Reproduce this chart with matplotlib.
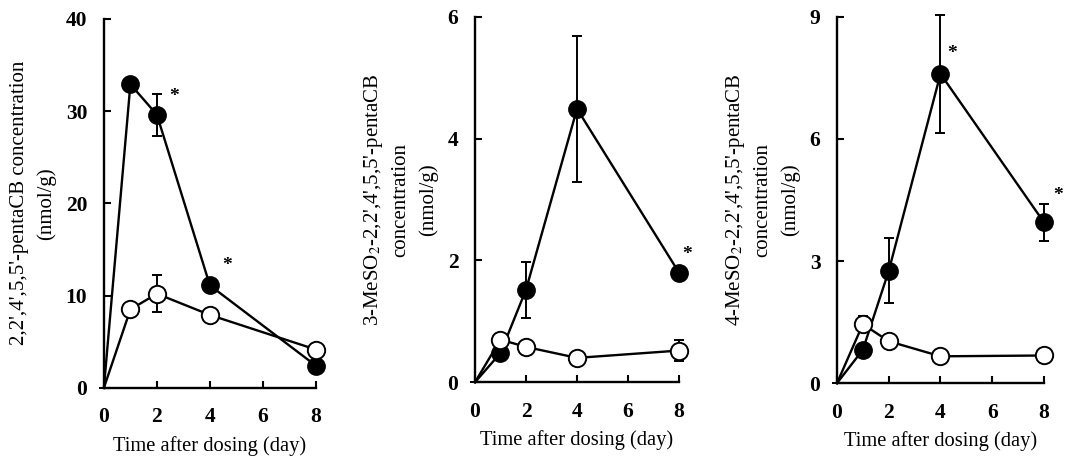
import matplotlib
matplotlib.use('Agg')
import matplotlib.pyplot as plt

plt.rcParams['font.family'] = ['Liberation Serif', 'DejaVu Serif']
plt.rcParams['mathtext.fontset'] = 'stix'

days = [0, 1, 2, 4, 8]

# panel 1: parent compound
pcb_filled = [0, 32.9, 29.6, 11.1, 2.4]
pcb_filled_err = [0, 0, 2.3, 0, 0]
pcb_open = [0, 8.5, 10.2, 7.9, 4.15]
pcb_open_err = [0, 0, 2.0, 0, 0]

# panel 2: 3-MeSO2 metabolite
m3_filled = [0, 0.48, 1.52, 4.49, 1.80]
m3_filled_err = [0, 0, 0.46, 1.2, 0]
m3_open = [0, 0.70, 0.58, 0.40, 0.52]
m3_open_err = [0, 0, 0.1, 0, 0.17]

# panel 3: 4-MeSO2 metabolite
m4_filled = [0, 0.82, 2.76, 7.6, 3.95]
m4_filled_err = [0, 0, 0.8, 1.45, 0.45]
m4_open = [0, 1.45, 1.03, 0.66, 0.68]
m4_open_err = [0, 0.2, 0, 0, 0]

ylabels = ["2,2',4',5,5'-pentaCB concentration\n(nmol/g)",
           "3-MeSO$_2$-2,2',4',5,5'-pentaCB\nconcentration\n(nmol/g)",
           "4-MeSO$_2$-2,2',4',5,5'-pentaCB\nconcentration\n(nmol/g)"]
ymax = [40, 6, 9]
yticks = [[0, 10, 20, 30, 40], [0, 2, 4, 6], [0, 3, 6, 9]]
stars = [[(2.65, 31.6), (4.65, 13.3)], [(8.3, 2.1)], [(4.45, 8.1), (8.55, 4.6)]]

panels = [(pcb_filled, pcb_filled_err, pcb_open, pcb_open_err),
          (m3_filled, m3_filled_err, m3_open, m3_open_err),
          (m4_filled, m4_filled_err, m4_open, m4_open_err)]

boxes = [[0.097, 0.173, 0.198, 0.787],
         [0.4435, 0.185, 0.1905, 0.779],
         [0.7815, 0.183, 0.1933, 0.781]]

fig = plt.figure(figsize=(10.71, 4.69), dpi=100)
for i, (f, fe, o, oe) in enumerate(panels):
    ax = fig.add_axes(boxes[i])
    ax.errorbar(days, f, yerr=fe, color='black', lw=1.7, marker='o', ms=12.5,
                mfc='black', mec='black', markevery=slice(1, None),
                capsize=3.5, elinewidth=1.4, capthick=1.4, zorder=3)
    ax.errorbar(days, o, yerr=oe, color='black', lw=1.7, marker='o', ms=12.5,
                mfc='white', mec='black', mew=1.4, markevery=slice(1, None),
                capsize=3.5, elinewidth=1.4, capthick=1.4, zorder=4)
    for sx, sy in stars[i]:
        ax.text(sx, sy, '*', fontsize=14, fontweight='bold', ha='center', va='center')
    ax.set_xlim(0, 8)
    ax.set_ylim(0, ymax[i])
    ax.set_xticks([0, 2, 4, 6, 8])
    ax.set_yticks(yticks[i])
    for s in ['top', 'right']:
        ax.spines[s].set_visible(False)
    for s in ['left', 'bottom']:
        ax.spines[s].set_linewidth(1.7)
    ax.tick_params(direction='in', length=5, width=1.5, labelsize=15.5)
    ax.tick_params(axis='x', pad=14)
    ax.tick_params(axis='y', pad=12)
    for lab in ax.get_xticklabels() + ax.get_yticklabels():
        lab.set_fontweight('bold')
    ax.set_xlabel('Time after dosing (day)', fontsize=14.8, labelpad=6)
    ax.set_ylabel(ylabels[i], fontsize=15, labelpad=7, linespacing=1.5)
    for c in ax.collections + ax.lines:
        c.set_clip_on(False)

fig.savefig('out.png', dpi=100)
